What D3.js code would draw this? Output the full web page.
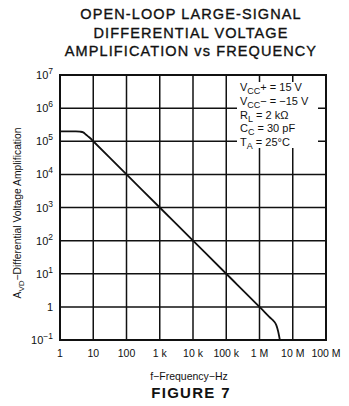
<!DOCTYPE html>
<html lang="en">
<head>
  <meta charset="UTF-8">
  <title>Figure 7</title>
  <style>
    body { margin: 0; background: #fff; }
    svg text { font-family: 'Liberation Sans', Arial, sans-serif; fill: #111; }
  </style>
</head>
<body>
  <svg id="svg" width="349" height="406"></svg>

  <script src="https://d3js.org/d3.v7.min.js"></script>
  <script>
    // open-loop gain
    const freq = [1, 2, 3, 4, 5, 6, 7, 8, 10, 100, 1e3, 1e4, 1e5, 1e6, 1.5e6, 2.1e6, 2.7e6, 3.2e6, 3.6e6, 3.9e6, 4.1e6]
    const gain = [2e5, 2e5, 2e5, 1.95e5, 1.85e5, 1.6e5, 1.4e5, 1.25e5, 1e5, 1e4, 1e3, 100, 10, 1, 0.66, 0.47, 0.37, 0.28, 0.19, 0.13, 0.1]

    const xTicks = [1, 10, 100, 1e3, 1e4, 1e5, 1e6, 1e7, 1e8]
    const xLabels = ['1', '10', '100', '1 k', '10 k', '100 k', '1 M', '10 M', '100 M']
    const yTicks = [1e-1, 1, 10, 1e2, 1e3, 1e4, 1e5, 1e6, 1e7]
    const yExp = ['\u22121', '', '1', '2', '3', '4', '5', '6', '7']

    const titleLines = ['OPEN-LOOP LARGE-SIGNAL', 'DIFFERENTIAL VOLTAGE', 'AMPLIFICATION vs FREQUENCY']

    const svg = d3.select('#svg')

    const xScale = d3.scaleLog().domain([1, 1e8]).range([60, 326])
    const yScale = d3.scaleLog().domain([0.1, 1e7]).range([340, 75])

    // title
    svg.selectAll('.title')
      .data(titleLines)
      .enter()
      .append('text')
      .attr('x', 191)
      .attr('y', (d, i) => 19 + i * 18.5)
      .attr('text-anchor', 'middle')
      .style('font-size', '14.5px')
      .style('letter-spacing', '1.1px')
      .style('stroke', '#111')
      .style('stroke-width', 0.35)
      .text(d => d)

    // grid
    const grid = svg.append('g')
      .attr('stroke', '#111')
      .attr('stroke-width', 1.5)

    grid.selectAll('.vline')
      .data(xTicks)
      .enter()
      .append('line')
      .attr('x1', d => xScale(d))
      .attr('x2', d => xScale(d))
      .attr('y1', yScale.range()[0])
      .attr('y2', yScale.range()[1])

    grid.selectAll('.hline')
      .data(yTicks)
      .enter()
      .append('line')
      .attr('x1', xScale.range()[0])
      .attr('x2', xScale.range()[1])
      .attr('y1', d => yScale(d))
      .attr('y2', d => yScale(d))

    svg.append('rect')
      .attr('x', 60)
      .attr('y', 75)
      .attr('width', 266)
      .attr('height', 265)
      .attr('fill', 'none')
      .attr('stroke', '#111')
      .attr('stroke-width', 2)

    // legend box blanks out the grid
    svg.append('rect')
      .attr('x', 237)
      .attr('y', 82)
      .attr('width', 81)
      .attr('height', 66)
      .attr('fill', '#fff')

    const legend = [
      { m: 'V', s: 'CC', r: '+ = 15 V' },
      { m: 'V', s: 'CC', r: '\u2212 = \u221215 V' },
      { m: 'R', s: 'L', r: ' = 2 k\u03a9' },
      { m: 'C', s: 'C', r: ' = 30 pF' },
      { m: 'T', s: 'A', r: ' = 25\u00b0C' }
    ]

    const lt = svg.selectAll('.leg')
      .data(legend)
      .enter()
      .append('text')
      .attr('x', 240)
      .attr('y', (d, i) => 91 + i * 13.8)
      .style('font-size', '11px')
    lt.append('tspan').text(d => d.m)
    lt.append('tspan').attr('dy', 3).style('font-size', '9px').text(d => d.s)
    lt.append('tspan').attr('dy', -3).text(d => d.r)

    // curve
    svg.append('path')
      .datum(freq.map((f, i) => [xScale(f), yScale(gain[i])]))
      .attr('d', d3.line().curve(d3.curveMonotoneX))
      .attr('fill', 'none')
      .attr('stroke', '#111')
      .attr('stroke-width', 1.8)

    // x tick labels
    svg.selectAll('.xl')
      .data(xTicks)
      .enter()
      .append('text')
      .attr('x', d => xScale(d))
      .attr('y', 357)
      .attr('text-anchor', 'middle')
      .style('font-size', '10.5px')
      .text((d, i) => xLabels[i])

    // y tick labels
    const yl = svg.selectAll('.yl')
      .data(yTicks)
      .enter()
      .append('text')
      .attr('x', 53)
      .attr('y', d => yScale(d) + 4)
      .attr('text-anchor', 'end')
      .style('font-size', '11px')
    yl.append('tspan').text((d, i) => i === 1 ? '1' : '10')
    yl.append('tspan')
      .attr('dy', -5)
      .style('font-size', '8.5px')
      .text((d, i) => yExp[i])

    // axis titles
    const yt = svg.append('text')
      .attr('transform', 'translate(21,213) rotate(-90)')
      .attr('text-anchor', 'middle')
      .style('font-size', '10.3px')
    yt.append('tspan').text('A')
    yt.append('tspan').attr('dy', 2.5).style('font-size', '8px').text('VD')
    yt.append('tspan').attr('dy', -2.5).text('\u2212Differential Voltage Amplification')

    svg.append('text')
      .attr('x', 189)
      .attr('y', 380)
      .attr('text-anchor', 'middle')
      .style('font-size', '10.5px')
      .text('f\u2212Frequency\u2212Hz')

    svg.append('text')
      .attr('x', 191)
      .attr('y', 398)
      .attr('text-anchor', 'middle')
      .style('font-size', '15px')
      .style('font-weight', 'bold')
      .style('letter-spacing', '1.3px')
      .text('FIGURE 7')
  </script>
</body>
</html>
